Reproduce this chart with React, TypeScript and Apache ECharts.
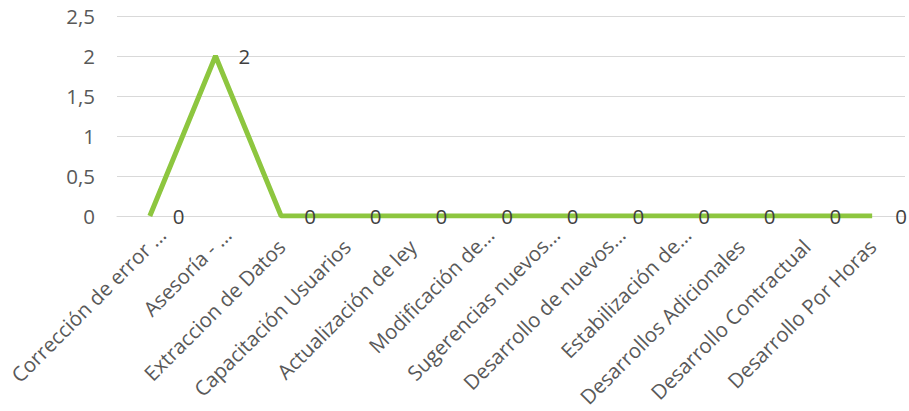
import React, { useEffect, useRef } from "react";
import * as echarts from "echarts";

const categories = [
  "Corrección de error ...",
  "Asesoría - ...",
  "Extraccion de Datos",
  "Capacitación Usuarios",
  "Actualización de ley",
  "Modificación de...",
  "Sugerencias nuevos...",
  "Desarrollo de nuevos...",
  "Estabilización de...",
  "Desarrollos Adicionales",
  "Desarrollo Contractual",
  "Desarrollo Por Horas",
];
const values = [0, 2, 0, 0, 0, 0, 0, 0, 0, 0, 0, 0];

const FONT = "'Open Sans', 'Noto Sans', sans-serif";
const TEXT = "#595959";

export default function App() {
  const ref = useRef<HTMLDivElement>(null);
  useEffect(() => {
    document.body.style.margin = "0";
    const chart = echarts.init(ref.current!, null, { renderer: "svg" });
    const catData = categories.map((c) =>
      c.endsWith("...")
        ? { value: c, textStyle: { padding: [0, -17, 0, 0] } }
        : c
    );
    chart.setOption({
      animation: false,
      grid: { left: 117, right: 4, top: 16, bottom: 195, containLabel: false },
      xAxis: {
        type: "category",
        data: catData,
        boundaryGap: true,
        axisLine: { show: true, lineStyle: { color: "#D9D9D9", width: 1 } },
        axisTick: { show: false },
        axisLabel: {
          interval: 0,
          rotate: 45,
          color: TEXT,
          fontSize: 20.5,
          fontFamily: FONT,
          margin: 27,
        },
      },
      yAxis: {
        type: "value",
        min: 0,
        max: 2.5,
        interval: 0.5,
        axisLine: { show: false },
        axisTick: { show: false },
        splitLine: { lineStyle: { color: "#D9D9D9", width: 1 } },
        axisLabel: {
          color: TEXT,
          fontSize: 20.5,
          fontFamily: FONT,
          margin: 22,
          formatter: (v: number) => String(v).replace(".", ","),
        },
      },
      series: [
        {
          type: "line",
          data: values,
          showSymbol: true,
          symbol: "circle",
          symbolSize: 0,
          lineStyle: { color: "#8DC63F", width: 5 },
          itemStyle: { color: "#8DC63F" },
          label: {
            show: true,
            position: "right",
            distance: 23,
            color: "#404040",
            fontSize: 20.5,
            fontFamily: FONT,
          },
        },
      ],
    });
    return () => chart.dispose();
  }, []);
  return <div ref={ref} style={{ width: 909, height: 411 }} />;
}
